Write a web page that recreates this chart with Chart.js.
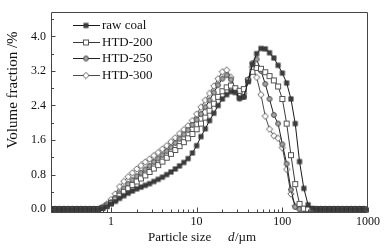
<!DOCTYPE html>
<html><head><meta charset="utf-8">
<script src="https://cdn.jsdelivr.net/npm/chart.js@4.4.1/dist/chart.umd.min.js"></script>
<style>html,body{margin:0;padding:0;background:#fff;}#wrap{width:386px;height:251px;}</style>
</head><body><div id="wrap"><canvas id="c" width="386" height="251"></canvas></div>
<script>
const sizes = [0.200,0.224,0.252,0.283,0.317,0.356,0.399,0.448,0.502,0.564,0.632,0.710,0.796,0.893,1.002,1.125,1.262,1.416,1.589,1.783,2.000,2.244,2.518,2.825,3.170,3.557,3.991,4.477,5.024,5.637,6.325,7.096,7.962,8.934,10.02,11.25,12.62,14.16,15.89,17.83,20.00,22.44,25.18,28.25,31.70,35.57,39.91,44.77,50.24,56.37,63.25,70.96,79.62,89.34,100.2,112.5,126.2,141.6,158.9,178.3,200.0,224.4,251.8,282.5,317.0,355.7,399.1,447.7,502.4,563.7,632.5,709.6,796.2,893.4];
const rawCoal = [0,0,0,0,0,0,0,0,0,0,0,0,0.02,0.06,0.12,0.18,0.25,0.31,0.37,0.42,0.47,0.51,0.55,0.59,0.64,0.69,0.74,0.80,0.86,0.93,1.00,1.08,1.17,1.30,1.47,1.68,1.86,2.05,2.22,2.40,2.55,2.65,2.72,2.70,2.57,2.60,2.95,3.35,3.60,3.72,3.71,3.62,3.50,3.33,3.15,2.92,2.55,1.98,1.10,0.48,0.10,0.01,0,0,0,0,0,0,0,0,0,0,0,0];
const htd200 = [0,0,0,0,0,0,0,0,0,0,0,0,0.03,0.08,0.14,0.22,0.31,0.40,0.48,0.56,0.64,0.71,0.78,0.86,0.94,1.02,1.10,1.19,1.28,1.37,1.46,1.55,1.64,1.74,1.85,1.98,2.12,2.28,2.44,2.60,2.73,2.82,2.86,2.80,2.74,2.78,2.98,3.18,3.27,3.25,3.17,3.08,2.98,2.84,2.55,1.98,1.25,0.58,0.12,0.01,0,0,0,0,0,0,0,0,0,0,0,0,0,0];
const htd250 = [0,0,0,0,0,0,0,0,0,0,0,0,0.03,0.09,0.16,0.26,0.37,0.48,0.58,0.67,0.76,0.84,0.92,1.00,1.09,1.17,1.25,1.34,1.43,1.53,1.63,1.73,1.83,1.95,2.07,2.20,2.36,2.52,2.70,2.87,3.02,3.10,3.00,2.75,2.56,2.60,2.98,3.38,3.47,3.20,2.90,2.55,2.18,1.98,1.50,1.05,0.45,0.05,0,0,0,0,0,0,0,0,0,0,0,0,0,0,0,0];
const htd300 = [0,0,0,0,0,0,0,0,0,0,0,0,0.05,0.12,0.22,0.35,0.52,0.64,0.75,0.84,0.93,1.01,1.09,1.16,1.24,1.31,1.39,1.47,1.56,1.65,1.75,1.84,1.93,2.05,2.20,2.36,2.52,2.68,2.85,3.02,3.18,3.22,3.05,2.78,2.62,2.68,3.00,3.28,3.05,2.65,2.15,1.85,1.70,1.64,1.42,0.92,0.35,0.07,0,0,0,0,0,0,0,0,0,0,0,0,0,0,0,0];
const seriesNames = ['raw coal','HTD-200','HTD-250','HTD-300'];
const xMajorTicks = [1,10,100,1000];
const yMajorTicks = [0.0,0.8,1.6,2.4,3.2,4.0];

function marker(kind){
  const c=document.createElement('canvas'); c.width=8; c.height=8;
  const g=c.getContext('2d'); g.lineWidth=1;
  if(kind==='sqx'){
    g.fillStyle='#8a8a8a'; g.fillRect(2,2,4,4);
    g.strokeStyle='#222'; g.strokeRect(2,2,4,4);
    g.beginPath(); g.moveTo(4,2); g.lineTo(4,6); g.moveTo(2,4); g.lineTo(6,4); g.stroke();
  } else if(kind==='sq'){
    g.fillStyle='#fff'; g.fillRect(1.5,1.5,5,5);
    g.strokeStyle='#555'; g.strokeRect(1.5,1.5,5,5);
  } else if(kind==='circ'){
    g.beginPath(); g.arc(4,4,2.4,0,Math.PI*2); g.fillStyle='#a8a8a8'; g.fill();
    g.strokeStyle='#444'; g.stroke();
  } else {
    g.beginPath(); g.moveTo(4,0.8); g.lineTo(7.2,4); g.lineTo(4,7.2); g.lineTo(0.8,4); g.closePath();
    g.fillStyle='#fff'; g.fill(); g.strokeStyle='#666'; g.stroke();
  }
  return c;
}
const markers=[marker('sqx'),marker('sq'),marker('circ'),marker('dia')];
const lineColors=['#1a1a1a','#3a3a3a','#222','#4a4a4a'];
const allSeries=[rawCoal,htd200,htd250,htd300];

const SERIF='"Liberation Serif","Times New Roman",serif';

const deco={
  id:'deco',
  afterDraw(chart){
    const {ctx,chartArea:a,scales:{x,y}}=chart;
    ctx.save();
    ctx.strokeStyle='#444'; ctx.lineWidth=1;
    const L=Math.round(a.left)+0.5, R=Math.round(a.right)-0.5, T=Math.round(a.top)+0.5, B=Math.round(a.bottom)-0.5;
    ctx.beginPath(); ctx.moveTo(L,T); ctx.lineTo(R,T); ctx.lineTo(R,B); ctx.lineTo(L,B); ctx.closePath(); ctx.stroke();
    ctx.beginPath();
    for(let e=-1;e<=3;e++){
      for(let k=1;k<=9;k++){
        const v=k*Math.pow(10,e);
        if(v<0.2-1e-9||v>1000+1e-9) continue;
        const px=Math.round(x.getPixelForValue(v))+0.5;
        const len=(k===1)?5:3;
        ctx.moveTo(px,B); ctx.lineTo(px,B-len);
      }
    }
    for(let i=0;i<=11;i++){
      const v=i*0.4;
      const py=Math.round(y.getPixelForValue(v))+0.5;
      const len=(i%2===0)?4:2.5;
      ctx.moveTo(L,py); ctx.lineTo(L+len,py);
    }
    ctx.stroke();
    ctx.font='13px '+SERIF; ctx.fillStyle='#111'; ctx.textBaseline='middle'; ctx.textAlign='left';
    for(let i=0;i<4;i++){
      const ly=25+i*16.5;
      ctx.strokeStyle=lineColors[i]; ctx.beginPath(); ctx.moveTo(73,Math.round(ly)+0.5); ctx.lineTo(100,Math.round(ly)+0.5); ctx.stroke();
      ctx.drawImage(markers[i],86-4,Math.round(ly)+0.5-4);
      ctx.fillText(seriesNames[i],102,ly+1);
    }
    ctx.fillText('Particle size',148,238);
    ctx.font='italic 13px '+SERIF; ctx.fillText('d',228,238);
    ctx.font='13px '+SERIF; ctx.fillText('/\u00b5m',235,238);
    ctx.translate(13,90); ctx.rotate(-Math.PI/2); ctx.textAlign='center';
    ctx.font='15px '+SERIF;
    ctx.fillText('Volume fraction /%',0,0);
    ctx.restore();
  }
};

new Chart(document.getElementById('c'),{
  type:'line',
  data:{
    labels:sizes,
    datasets:allSeries.map((s,i)=>({
      label:seriesNames[i],
      data:s.map((v,j)=>({x:sizes[j],y:v})),
      borderColor:lineColors[i], borderWidth:1, pointStyle:markers[i],
      pointRadius:3, pointHoverRadius:3, tension:0, fill:false
    }))
  },
  options:{
    responsive:false, animation:false, devicePixelRatio:1,
    layout:{padding:{left:0,right:18,top:4,bottom:0}},
    plugins:{legend:{display:false},tooltip:{enabled:false}},
    scales:{
      x:{type:'logarithmic',min:0.2,max:1000,
        grid:{display:false,drawTicks:false}, border:{display:false},
        afterBuildTicks:ax=>{ax.ticks=xMajorTicks.map(v=>({value:v}));},
        afterFit:s=>{s.height=38;},
        ticks:{autoSkip:false,maxRotation:0,padding:2,color:'#111',font:{family:SERIF,size:12},
          callback:v=>xMajorTicks.includes(v)?String(v):''}
      },
      y:{type:'linear',min:-0.09,max:4.56,
        grid:{display:false,drawTicks:false}, border:{display:false},
        afterBuildTicks:ax=>{ax.ticks=yMajorTicks.map(v=>({value:v}));},
        afterFit:s=>{s.width=51;},
        ticks:{padding:5,color:'#111',font:{family:SERIF,size:12},callback:v=>v.toFixed(1)}
      }
    }
  },
  plugins:[deco]
});
</script></body></html>
